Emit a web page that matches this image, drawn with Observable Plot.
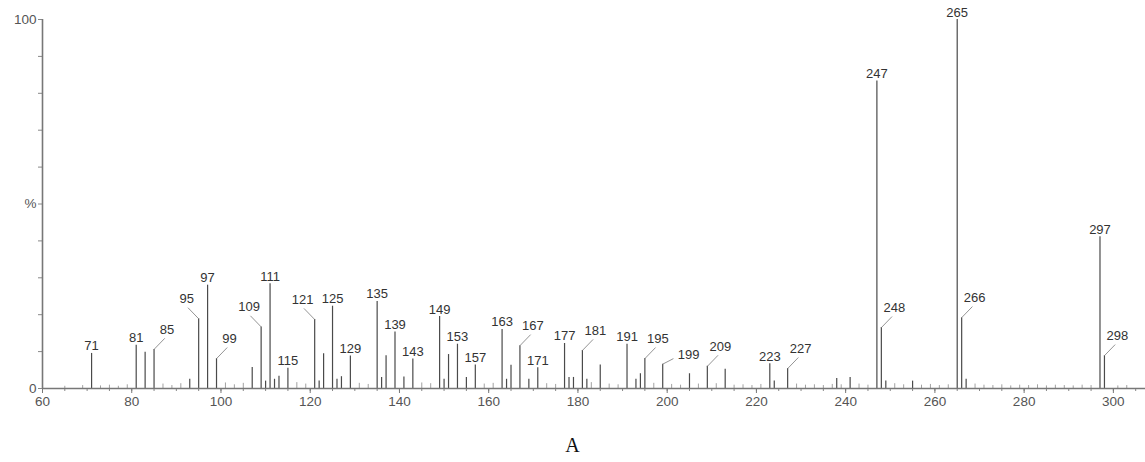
<!DOCTYPE html>
<html>
<head>
<meta charset="utf-8">
<script src="https://cdn.jsdelivr.net/npm/d3@7"></script>
<script src="https://cdn.jsdelivr.net/npm/@observablehq/plot@0.6"></script>
<style>
  html, body { margin: 0; padding: 0; background: #fff; }
  #chart svg { display: block; }
  #caption { font-family: "Liberation Serif", "Times New Roman", serif; font-size: 20px; line-height: 24px; text-align: center; color: #111; margin-top: 13px; }
</style>
</head>
<body>
<div id="chart"></div>
<div id="caption">A</div>
<script>
// Main peaks: m/z and relative intensity (%)
const peakMz  = [71, 81, 83, 85, 93, 95, 97, 99, 107, 109, 110, 111, 112, 113, 115, 121, 122, 123, 125, 126, 127, 129,
                 135, 136, 137, 139, 141, 143, 149, 150, 151, 153, 155, 157, 163, 164, 165, 167, 169, 171, 177, 178, 179,
                 181, 182, 185, 191, 193, 194, 195, 199, 205, 209, 213, 223, 224, 227, 238, 241, 247, 248, 249, 255,
                 265, 266, 267, 297, 298];
const peakInt = [9.5, 11.7, 9.8, 10.6, 2.5, 18.9, 28, 8.1, 5.7, 16.7, 2, 28.4, 2.5, 3.3, 5.5, 18.7, 2, 9.4, 22.3, 2.5, 3.2, 8.8,
                 23.6, 3, 8.9, 15.3, 3.1, 8.0, 19.5, 2.5, 9.2, 12, 3, 6.4, 16, 2.5, 6.3, 11.6, 2.5, 5.6, 12.2, 3, 3,
                 10.3, 2.5, 6.4, 12, 2.5, 4, 8.1, 6.6, 4, 6, 5.2, 6.7, 2, 5.4, 2.7, 3, 83.3, 16.5, 2, 2,
                 100, 19.2, 2.5, 41.1, 8.9];

// Small baseline peaks
const noiseMz  = [65, 69, 73, 75, 77, 79, 87, 89, 91, 101, 103, 105, 117, 119, 131, 133, 145, 147, 159, 161, 173, 175,
                  183, 187, 189, 197, 201, 203, 207, 211, 215, 217, 219, 221, 229, 231, 233, 235, 237, 239, 243, 245,
                  251, 253, 257, 259, 261, 263, 269, 271, 273, 275, 277, 279, 281, 283, 285, 287, 289, 291, 293, 295,
                  301, 303];
const noiseInt = [0.6, 0.8, 0.7, 0.9, 0.6, 1.0, 1.2, 0.8, 1.3, 1.5, 1.0, 1.4, 1.6, 1.2, 1.4, 1.1, 1.5, 1.3, 1.2, 1.4, 1.3, 1.1,
                  1.6, 1.2, 1.0, 1.4, 1.1, 0.9, 1.2, 1.3, 0.9, 1.0, 0.8, 1.1, 1.2, 0.9, 1.0, 0.8, 1.1, 1.0, 1.2, 0.9,
                  1.3, 1.0, 0.9, 1.1, 0.8, 1.0, 1.2, 0.9, 0.8, 1.0, 0.7, 0.9, 0.8, 1.0, 0.7, 0.9, 0.8, 0.7, 0.9, 0.8,
                  0.7, 0.8];

// Annotated peaks and which side their label sits on
const labelMz   = [71, 81, 85, 95, 97, 99, 109, 111, 115, 121, 125, 129, 135, 139, 143, 149, 153, 157, 163, 167,
                   171, 177, 181, 191, 195, 199, 209, 223, 227, 247, 248, 265, 266, 297, 298];
const labelSide = ["up", "up", "right", "left", "up", "right", "left", "up", "up", "left", "up", "up", "up", "up", "up",
                   "up", "up", "up", "up", "right", "up", "up", "right", "up", "right", "far", "right", "up", "right",
                   "up", "right", "up", "right", "up", "right"];

const yTicks = d3.range(0, 101, 10);
const xMajor = d3.range(60, 301, 20);
const xMinor = d3.range(60, 306, 5);

const peaks = peakMz.map((m, i) => ({mz: m, int: peakInt[i]}));
const noise = noiseMz.map((m, i) => ({mz: m, int: noiseInt[i]}));
const intOf = new Map(peaks.map(p => [p.mz, p.int]));
const labels = labelMz.map((m, i) => ({mz: m, int: intOf.get(m), side: labelSide[i]}));
const side = s => labels.filter(d => d.side === s);
const leaders = labels.filter(d => d.side !== "up");

const font = "'Liberation Sans', Arial, sans-serif";

const chart = Plot.plot({
  width: 1145,
  height: 420,
  marginLeft: 42,
  marginRight: 0,
  marginTop: 19,
  marginBottom: 32,
  style: {fontFamily: font, background: "#fff"},
  x: {domain: [60, 307.2], label: null},
  y: {domain: [0, 100], label: null},
  marks: [
    Plot.axisX({ticks: xMinor, tickSize: 3, tickFormat: () => "", stroke: "#888", label: null}),
    Plot.axisX({ticks: xMajor, tickSize: 5, tickPadding: 3, fontSize: 13.5, fill: "#555", stroke: "#777", label: null}),
    Plot.axisY({ticks: yTicks, tickSize: 4, tickPadding: 2, fontSize: 13.5, fill: "#555", stroke: "#888", label: null,
      tickFormat: d => d === 100 ? "100" : d === 50 ? "%" : d === 0 ? "0" : ""}),
    Plot.ruleX(noise, {x: "mz", y1: 0, y2: "int", stroke: "#8a8a8a", strokeWidth: 0.8}),
    Plot.ruleX(peaks, {x: "mz", y1: 0, y2: "int", stroke: "#4a4a4a", strokeWidth: 1.2}),
    Plot.ruleY([0], {stroke: "#777", strokeWidth: 1.6}),
    Plot.ruleX([60], {stroke: "#777", strokeWidth: 1.6}),
    Plot.link(leaders, {
      x1: "mz", y1: "int",
      x2: d => d.mz + (d.side === "left" ? -2.4 : 2.4),
      y2: d => d.int + (d.side === "far" ? 1.5 : 3.0),
      stroke: "#888", strokeWidth: 0.9
    }),
    Plot.text(side("up"), {x: "mz", y: "int", text: d => String(d.mz), lineAnchor: "bottom", dy: -3, fontSize: 13, fill: "#333"}),
    Plot.text(side("right"), {x: "mz", y: "int", text: d => String(d.mz), dx: 13, dy: -20, fontSize: 13, fill: "#333"}),
    Plot.text(side("left"), {x: "mz", y: "int", text: d => String(d.mz), dx: -12, dy: -20, fontSize: 13, fill: "#333"}),
    Plot.text(side("far"), {x: "mz", y: "int", text: d => String(d.mz), dx: 26, dy: -9, fontSize: 13, fill: "#333"})
  ]
});
document.getElementById("chart").appendChild(chart);
</script>
</body>
</html>
